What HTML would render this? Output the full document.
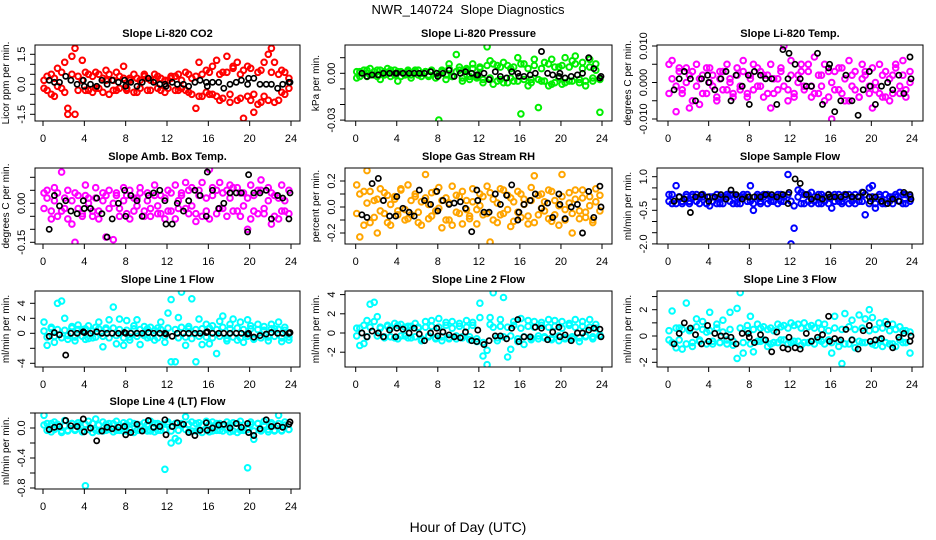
<!DOCTYPE html>
<html><head><meta charset="utf-8">
<style>
html,body{margin:0;padding:0;background:#fff;}
svg{display:block;font-family:"Liberation Sans",Arial,sans-serif;}
</style></head>
<body>
<svg id="chart" width="936" height="540" viewBox="0 0 936 540" xmlns="http://www.w3.org/2000/svg">
<rect width="936" height="540" fill="#fff"/>
<text x="468" y="14" text-anchor="middle" font-size="13">NWR_140724&#160; Slope Diagnostics</text>
<text x="468" y="532" text-anchor="middle" font-size="14">Hour of Day (UTC)</text>
</svg>
<script>
// shared measurement times (hours UTC)
const hours = [0.1,0.4,0.8,1.1,1.4,1.8,2.1,2.4,2.8,3.1,3.4,3.8,4.1,4.4,4.8,5.1,5.4,5.8,6.1,6.4,6.8,7.1,7.4,7.8,8.1,8.4,8.8,9.1,9.4,9.8,10.1,10.4,10.8,11.1,11.4,11.8,12.1,12.4,12.8,13.1,13.4,13.8,14.1,14.4,14.8,15.1,15.4,15.8,16.1,16.4,16.8,17.1,17.4,17.8,18.1,18.4,18.8,19.1,19.4,19.8,20.1,20.4,20.8,21.1,21.4,21.8,22.1,22.4,22.8,23.1,23.4,23.8];
const hoursBlack = [0.6,1.1,1.6,2.2,2.7,3.3,3.9,4.0,4.6,5.2,5.7,6.2,6.7,7.3,7.9,8.0,8.5,9.1,9.6,10.2,10.7,11.3,11.8,11.9,12.5,13.0,13.6,14.1,14.7,15.2,15.8,15.9,16.4,17.0,17.5,18.1,18.7,19.2,19.8,19.9,20.4,21.0,21.6,22.1,22.7,23.2,23.8,23.9];
const xTicks = [0,4,8,12,16,20,24];

// Li-820 CO2 (ppm/min)
const co2A = [0.2,-0.3,0.5,-0.6,0.8,-0.2,1.1,-1.2,1.4,1.8,0.4,1.2,-0.3,0.5,-0.4,0.6,-0.2,0.3,0.7,-0.5,0.2,-0.3,0.4,0.9,-0.2,0.3,0.5,-0.4,0.2,0.4,-0.3,0.2,0.5,-0.2,0.3,-0.4,0.2,0.4,-0.3,0.5,-0.2,0.6,-0.4,0.3,-1.2,1.1,-0.6,0.7,-0.5,0.9,1.2,-0.8,0.6,1.4,-0.9,0.8,1.1,-0.7,-1.7,0.9,-0.8,-1.4,0.6,-0.9,1.1,1.5,1.8,1.1,-0.8,0.7,-0.5,0.3];
const co2B = [-0.2,0.4,-0.5,0.3,-0.1,0.6,-0.4,-1.5,0.5,-1.5,-0.3,0.2,0.6,-0.3,0.4,-0.2,0.5,-0.4,0.2,0.5,-0.3,0.6,-0.2,0.3,-0.3,0.2,-0.4,0.3,-0.2,0.5,0.3,-0.3,0.2,0.4,-0.3,0.2,-0.2,0.3,0.4,-0.3,0.2,-0.3,0.5,-0.5,0.4,-0.6,0.5,-0.4,0.6,-0.5,-0.6,0.5,-0.7,0.6,-0.5,0.9,-0.8,0.5,0.7,-0.6,0.8,-0.5,-1.0,0.7,-0.6,-0.8,0.6,-0.9,0.5,-0.4,0.6,-0.2];
const co2Black = [0.2,0.1,0.1,0.4,0.2,0.0,0.2,-0.1,0.0,-0.1,0.2,0.0,0.2,0.1,0.2,-0.1,0.1,-0.1,0.1,0.3,0.1,0.0,0.0,-0.1,0.1,0.0,0.0,-0.1,0.1,0.2,0.1,-0.1,0.1,0.1,-0.2,0.0,0.1,0.2,0.0,0.3,0.3,0.0,0.0,0.0,-0.2,0.0,0.1,0.1];
// Li-820 pressure (1e-3 kPa/min)
const pressA = [-3,1,2,-2,3,-1,2,-4,1,3,-2,2,-5,1,-1,2,-3,1,2,-2,1,-1,2,-3,-30,1,-4,6,-2,12,2,-5,3,-2,6,-3,4,-6,17,8,-7,5,-4,7,-6,3,-5,10,-26,6,-8,-4,9,-22,-5,7,-8,9,-6,4,-7,10,-5,8,11,-6,7,-8,9,-5,2,-25];
const pressB = [1,-2,0,2,-1,1,-2,2,-1,0,2,-1,1,-2,0,1,-1,2,-1,0,1,-2,1,0,-1,2,-1,3,-2,1,4,-3,2,-4,3,-2,3,-4,5,-3,6,-5,4,-6,5,-3,4,-5,6,-4,3,-6,5,-4,3,-5,6,-7,4,-3,5,-6,4,-5,6,-4,3,-5,4,-3,6,-4];
const pressBlack = [0,-2,-1,-1,0,0,0,0,0,0,0,0,0,1,0,-2,0,2,-2,0,1,0,-1,-1,0,-4,1,-2,-3,1,0,-2,-2,-1,0,14,0,-1,-2,0,-3,-2,-1,0,10,3,-3,-2];
// Li-820 temp (1e-3 C/min)
const tempA = [5,6,-1,3,-3,4,2,-5,5,1,-3,4,0,2,-4,3,-2,5,1,-3,4,-2,6,-4,2,5,-1,3,-4,2,5,-3,1,4,10,-2,6,-3,2,5,-1,3,-4,7,-3,2,5,-4,-10,3,-2,4,-5,6,-1,3,-4,5,2,-3,4,-2,5,-4,3,-5,2,4,-3,6,-2,3];
const tempB = [-3,1,-8,4,-2,0,-7,3,-1,-6,2,-3,4,-1,-5,1,3,-2,0,-4,2,-1,3,-3,1,-2,4,-1,2,-3,-7,1,-2,3,-1,-5,2,-4,0,3,-2,5,-1,-3,2,-1,-5,3,0,-2,4,-3,1,-5,2,-2,-4,1,3,-1,-7,0,-3,2,-4,1,-3,5,-1,2,-4,0];
const tempBlack = [-2,1,3,1,-5,1,2,0,-2,1,3,-5,2,-1,2,-6,3,2,1,1,-6,9,1,8,5,1,-1,-1,8,-6,4,5,-8,-5,2,-5,-9,-2,3,-1,-6,-1,0,-2,2,-3,7,1];
// Amb box temp (1e-2 C/min)
const ambA = [4,2,-3,6,-5,12,-2,5,-8,-15,3,-4,7,2,-5,6,-3,4,-13,5,-14,3,-2,6,-4,5,-3,2,6,-5,4,-2,7,-4,3,-6,5,-3,7,-2,4,8,-4,6,-7,5,8,-3,13,6,-4,8,-2,5,7,-3,6,-5,4,-10,7,-3,5,9,-4,6,-8,3,-6,7,-3,5];
const ambB = [-2,5,-6,1,4,-3,2,-6,1,4,-2,-5,3,0,-3,2,-6,1,3,-2,0,4,-5,1,3,-6,2,-1,4,-3,1,-5,3,-1,-4,2,-3,4,-6,1,3,-2,5,-1,-4,3,-5,2,-6,3,5,-2,4,-5,2,6,-3,4,-1,2,-6,3,-4,5,-2,1,4,-5,2,-3,1,-4];
const ambBlack = [-10,3,-1,1,-3,-4,1,-2,-2,2,-4,-13,-6,0,5,-5,3,1,-5,3,4,5,1,-8,-8,0,-3,1,5,3,-5,12,5,-2,0,4,4,4,-11,11,4,4,5,-6,3,2,-6,4];
// Gas stream RH (1e-2 %/min)
const rhA = [17,-23,12,28,-12,5,-20,14,-5,9,-14,6,-3,13,-10,17,-6,8,-12,4,25,-9,11,-3,15,-16,7,-10,16,-4,8,-13,5,-7,14,-2,10,-6,16,-27,6,-12,14,-5,9,-15,4,12,-8,6,-13,15,24,-6,10,-3,13,-11,5,-14,25,-2,11,-20,6,-9,13,-4,8,-12,14,-3];
const rhB = [-5,10,-14,3,12,-8,6,-3,11,-12,2,8,-6,14,-2,-9,5,10,-4,-14,7,2,-7,12,-1,5,-10,3,-14,9,-5,12,-2,-9,4,-13,1,8,-5,11,-10,3,-6,13,-2,7,-11,-4,10,2,-7,5,-12,9,-1,4,-9,12,-6,1,8,-10,3,-5,13,-3,7,-8,1,-10,4,9];
const rhBlack = [-6,-8,18,22,5,-7,-7,8,-1,-4,-7,13,5,2,12,-3,5,2,3,4,-1,-19,13,5,-4,-4,10,2,9,17,-10,-4,2,5,10,-1,3,-8,10,2,-9,0,2,-20,12,-8,16,0];
// Sample flow (1e-1 ml/min per min)
const sampleA = [2,-2,6,1,-1,2,-1,2,-1,1,2,-2,-3,1,2,-2,1,2,-1,2,-2,1,2,-1,6,-5,2,-1,2,-2,1,-1,2,-1,1,11,-20,-13,4,3,-2,2,3,-1,2,-2,1,2,-4,-1,2,-1,2,-2,1,2,-1,3,-7,5,6,-4,1,-2,2,-1,1,2,3,-2,2,-1];
const sampleB = [-1,2,-2,1,-2,1,-2,1,2,-2,1,-2,1,-1,-2,1,-2,1,2,-2,1,-2,1,2,-1,-2,1,-2,1,2,-1,1,-2,2,-1,2,-1,-3,1,-2,2,-1,-2,1,-2,2,-1,-2,1,2,-1,-2,1,2,-1,-2,1,-1,2,-2,1,-2,2,-1,-2,1,-2,1,-1,2,-2,1];
const sampleBlack = [-1,1,0,-6,1,2,1,-1,1,2,0,4,2,0,1,1,1,1,2,2,1,2,-2,3,9,7,2,0,1,0,2,1,1,1,2,1,1,3,1,-1,1,-1,-2,0,-1,3,2,0];
// Line 1 flow
const line1A = [1.5,-1.6,0.8,-1.2,4.0,4.3,2.0,-0.8,0.9,-1.0,1.1,0.5,-0.8,1.0,-0.6,0.8,1.5,-1.8,0.7,1.8,3.5,-1.4,1.9,-1.6,1.7,-0.9,1.0,1.8,-1.5,0.9,-0.6,0.8,-0.9,0.7,1.5,-1.2,2.7,4.5,-3.8,2.1,5.5,-1.6,0.9,4.6,-3.8,1.9,-1.5,1.2,-1.4,1.0,-2.7,1.6,2.3,-1.0,1.2,1.9,-0.9,1.5,-1.2,1.8,1.0,-0.8,1.2,-0.6,0.9,-1.0,1.2,0.6,1.5,-1.1,0.8,-0.9];
const line1B = [0.3,-0.5,0.6,-0.4,0.5,-0.6,0.4,-0.3,0.7,-0.5,0.5,-0.4,0.6,-0.7,0.3,-0.5,0.6,-0.4,0.5,-0.6,0.7,-0.3,0.5,-0.6,0.4,-0.5,0.6,-0.4,0.5,-0.3,0.6,-0.5,0.4,-0.6,0.5,-0.4,0.7,-3.8,0.5,-0.6,0.8,-0.5,0.6,-0.7,0.5,-0.4,0.6,-0.5,0.7,-0.6,0.5,-0.4,0.8,-0.7,0.6,-0.5,0.7,-0.6,0.5,-0.4,0.6,-0.7,0.5,-0.6,0.4,-0.5,0.6,-0.4,0.5,-0.6,0.4,-0.5];
const line1Black = [-0.4,0.1,-0.2,-2.9,0,0,0.2,0.1,0,0.2,0,0,0,0,0.1,0,0,0,0,0.1,0,0,0,-0.1,-0.4,0,0,0,0,0,0.1,0.2,0,0,0,0,0,0,-0.1,0,-0.5,-0.3,-0.1,0.1,0,0,0,0.1];
// Line 2 flow
const line2A = [0.5,-1.3,-1.1,1.3,3.0,3.2,1.7,0.6,-0.5,0.8,-0.4,1.0,-0.6,0.9,-0.3,0.7,-0.5,1.0,0.6,-0.8,1.2,-0.4,1.3,-0.6,1.5,-0.8,1.1,-0.5,1.2,-0.6,1.0,-0.4,1.3,-0.7,1.1,-0.9,3.1,-2.4,-3.3,1.6,4.2,-0.8,1.4,3.7,-2.5,-1.7,1.2,-0.9,1.5,-1.2,1.3,-0.7,1.2,-0.6,1.1,-0.5,1.4,-0.7,1.3,-0.8,1.2,-0.5,1.0,-0.6,1.4,-0.9,1.2,-0.4,1.4,-0.6,0.9,-0.3];
const line2B = [-0.3,0.5,0.8,-0.4,0.6,1.2,-0.3,0.5,-0.4,0.7,0.5,-0.5,0.8,-0.3,0.6,-0.5,0.7,-0.4,0.5,-0.6,0.6,-0.3,0.7,-0.5,0.6,-0.4,0.8,-0.6,0.5,-0.3,0.7,-0.5,0.6,-0.4,0.8,-0.6,1.6,-1.0,-1.8,0.9,0.6,-0.5,0.7,-0.4,0.6,-0.3,0.8,-0.6,0.5,-0.4,0.7,-0.5,0.6,-0.3,0.8,-0.4,0.6,-0.5,0.7,-0.3,0.5,-0.6,0.8,-0.4,0.6,-0.5,0.7,-0.3,0.6,-0.4,0.5,-0.2];
const line2Black = [0.0,-0.4,0.2,0,-0.4,0.3,-0.4,0.5,0.4,0,0.5,-0.1,-0.8,0,0.5,-0.3,0.1,-0.2,-0.4,-0.5,0.1,-0.8,-0.9,0.3,-1.2,-0.8,-0.3,-0.3,-0.6,0.5,1.4,-0.9,-0.4,-0.4,0.6,0.5,-0.7,0.1,0.6,-0.4,-0.2,-0.8,0,0,0.3,0.5,0.4,-0.4];
// Line 3 flow
const line3A = [-0.3,1.9,-0.9,0.6,-1.0,2.5,0.5,-0.8,1.3,-0.4,1.1,0.3,1.8,-0.6,0.9,-0.5,1.2,-0.3,1.8,-0.7,2.1,3.3,-1.3,0.8,1.5,-1.2,0.9,-0.4,0.7,-0.8,0.6,-0.5,0.9,-0.3,0.8,-0.6,1.0,-0.4,0.9,-0.7,1.0,-0.5,0.8,-0.6,1.0,-0.4,0.9,-0.3,-1.3,1.5,-0.8,-2.1,1.7,-0.6,1.2,-0.9,1.6,-0.5,1.3,2.0,1.4,-0.7,1.0,-0.8,1.1,-0.6,0.9,-0.8,0.7,-0.5,0.4,-1.3];
const line3B = [0.4,-0.5,0.6,-0.3,0.5,-0.6,0.4,-0.5,0.7,-0.3,0.5,-0.6,0.4,-0.4,0.6,-0.5,0.3,-0.6,0.5,-0.4,-1.7,0.6,-0.5,0.4,-0.6,0.5,-0.4,0.6,-0.3,0.5,-0.6,0.4,-0.5,0.7,-0.3,0.6,-0.5,0.8,-0.4,0.6,-0.5,0.7,-0.4,0.6,-0.3,0.5,-0.6,0.4,-0.5,0.6,-0.4,0.5,-0.6,0.7,-0.3,0.5,-0.4,0.6,-0.5,0.4,-0.6,0.5,-0.3,0.6,-0.5,0.4,-0.6,0.5,-0.3,0.4,-0.5,0.3];
const line3Black = [-0.6,0.2,1.0,0.6,0.1,-0.6,0.8,-0.4,0.2,0,0,-0.1,-0.6,0.2,0.2,-0.1,-0.5,0.1,-0.3,-1.2,0.3,-0.9,-1.0,-0.1,-0.9,-1.0,0.2,-0.4,-0.1,0.1,1.5,-0.4,-0.2,-0.3,0.5,-0.3,-1.0,0.4,0.8,-0.4,-0.3,-0.2,0.9,-0.9,-0.1,0.2,-0.4,0];
// Line 4 (LT) flow (1e-2 ml/min per min)
const line4A = [17,6,-5,8,2,-6,10,-4,6,-3,7,-5,-77,9,-6,12,-4,8,-3,6,-5,9,-3,7,-4,8,-6,5,-3,7,-4,9,-5,6,-3,-55,8,-20,-14,-17,6,15,-5,8,-4,7,-6,9,-5,8,-3,6,-4,8,-5,7,-6,9,-3,-53,8,-15,6,-4,9,-5,7,-3,17,-4,8,-2];
const line4B = [4,-3,6,-2,5,-4,3,-3,6,-2,4,-4,5,-2,6,-3,4,-4,5,-2,6,-3,4,-4,5,-2,6,-3,4,-2,5,-4,6,-3,4,-2,5,-4,6,-3,4,-2,5,-4,6,-3,4,-2,5,-4,6,-3,4,-2,5,-4,6,-3,4,-2,5,-4,6,-3,4,-2,5,-4,6,-3,4,-2];
const line4Black = [-2,1,2,10,3,2,12,-5,0,-17,-4,1,-1,1,2,-9,-6,5,-4,10,1,2,11,-9,2,7,5,-6,-10,-3,7,-3,0,4,5,0,6,1,6,-6,-10,-1,11,2,3,1,5,8];

const svg = document.getElementById('chart');
const NS = 'http://www.w3.org/2000/svg';
const colLeft = [35, 345, 657], colRight = [300, 612, 923];
const colX0 = [43, 355.7, 668], colX24 = [291, 602, 912];
const rowTop = [45, 168, 291, 413];
const boxH = 76;

const panels = [
 {name:'li820-co2', title:'Slope Li-820 CO2', ylab:'Licor ppm per min.', col:0,row:0, color:'#ff0000', a:co2A, b:co2B, k:co2Black, zero:84.3, ppu:20, ticks:[-1.5,-1,-0.5,0,0.5,1,1.5], labs:[[1.5,'1.5'],[0,'0.0'],[-1.5,'-1.5']]},
 {name:'li820-pressure', title:'Slope Li-820 Pressure', ylab:'kPa per min.', col:1,row:0, color:'#00ee00', a:pressA, b:pressB, k:pressBlack, zero:73.3, ppu:1.56, ticks:[-30,-20,-10,0,10], labs:[[0,'0.00'],[-30,'-0.03']]},
 {name:'li820-temp', title:'Slope Li-820 Temp.', ylab:'degrees C per min.', col:2,row:0, color:'#ff00ff', a:tempA, b:tempB, k:tempBlack, zero:82.5, ppu:3.65, ticks:[-10,-5,0,5,10], labs:[[10,'0.010'],[0,'0.000'],[-10,'-0.010']]},
 {name:'amb-box-temp', title:'Slope Amb. Box Temp.', ylab:'degrees C per min.', col:0,row:1, color:'#ff00ff', a:ambA, b:ambB, k:ambBlack, zero:203.3, ppu:2.6, ticks:[-15,-10,-5,0,5,10], labs:[[0,'0.00'],[-15,'-0.15']]},
 {name:'gas-stream-rh', title:'Slope Gas Stream RH', ylab:'percent per min.', col:1,row:1, color:'#ffa500', a:rhA, b:rhB, k:rhBlack, zero:207, ppu:1.3, ticks:[-20,-10,0,10,20], labs:[[20,'0.2'],[0,'0.0'],[-20,'-0.2']]},
 {name:'sample-flow', title:'Slope Sample Flow', ylab:'ml/min per min.', col:2,row:1, color:'#0000ff', a:sampleA, b:sampleB, k:sampleBlack, zero:199.1, ppu:2.24, ticks:[-20,-15,-10,-5,0,5,10], labs:[[10,'1.0'],[-5,'-0.5'],[-20,'-2.0']]},
 {name:'line1-flow', title:'Slope Line 1 Flow', ylab:'ml/min per min.', col:0,row:2, color:'#00ffff', a:line1A, b:line1B, k:line1Black, zero:333.3, ppu:7.5, ticks:[-4,-2,0,2,4], labs:[[4,'4'],[2,'2'],[0,'0'],[-4,'-4']]},
 {name:'line2-flow', title:'Slope Line 2 Flow', ylab:'ml/min per min.', col:1,row:2, color:'#00ffff', a:line2A, b:line2B, k:line2Black, zero:333, ppu:9.6, ticks:[-2,0,2,4], labs:[[4,'4'],[2,'2'],[0,'0'],[-2,'-2']]},
 {name:'line3-flow', title:'Slope Line 3 Flow', ylab:'ml/min per min.', col:2,row:2, color:'#00ffff', a:line3A, b:line3B, k:line3Black, zero:336, ppu:13.15, ticks:[-2,-1,0,1,2,3], labs:[[2,'2'],[0,'0'],[-2,'-2']]},
 {name:'line4-flow', title:'Slope Line 4 (LT) Flow', ylab:'ml/min per min.', col:0,row:3, color:'#00ffff', a:line4A, b:line4B, k:line4Black, zero:428, ppu:0.75, ticks:[-80,-60,-40,-20,0,20], labs:[[0,'0.0'],[-40,'-0.4'],[-80,'-0.8']]}
];

function el(tag, attrs, parent){
  const e = document.createElementNS(NS, tag);
  for (const k in attrs) e.setAttribute(k, attrs[k]);
  parent.appendChild(e);
  return e;
}

panels.forEach(p => {
  const L = colLeft[p.col], R = colRight[p.col], T = rowTop[p.row], B = T + boxH;
  const x0 = colX0[p.col], x24 = colX24[p.col];
  const xs = h => x0 + (x24 - x0) * h / 24;
  const ys = v => p.zero - v * p.ppu;
  const g = el('g', {}, svg);
  
  

  const title = el('text', {x:(L+R)/2, y:T-8, 'text-anchor':'middle', 'font-size':'11', 'font-weight':'bold'}, g);
  
  
  title.textContent = p.title;

  const clipId = 'clip-' + p.name;
  const cp = el('clipPath', {id:clipId}, g);
  el('rect', {x:L, y:T, width:R-L, height:boxH}, cp);

  const pts = el('g', {'clip-path':'url(#'+clipId+')', fill:'none'}, g);
  
  
  [p.a, p.b].forEach(arr => {
    arr.forEach((v, i) => {
      const c = el('circle', {cx:xs(hours[i]).toFixed(1), cy:ys(v).toFixed(1), r:2.8, stroke:p.color, 'stroke-width':2}, pts);
      
      
    });
  });
  p.k.forEach((v, i) => {
    const c = el('circle', {cx:xs(hoursBlack[i]).toFixed(1), cy:ys(v).toFixed(1), r:2.6, stroke:'#000', 'stroke-width':1.7}, pts);
    
    
  });

  const box = el('rect', {x:L, y:T, width:R-L, height:boxH, fill:'none', stroke:'#000', 'stroke-width':1}, g);
  
  

  const xa = el('g', {'font-size':'11'}, g);
  
  
  xTicks.forEach(t => {
    const x = xs(t);
    el('line', {x1:x, x2:x, y1:B, y2:B+5, stroke:'#000'}, xa);
    const tx = el('text', {x:x, y:B+21, 'text-anchor':'middle'}, xa);
    
    
    tx.textContent = t;
  });

  const ya = el('g', {'font-size':'11'}, g);
  
  
  p.ticks.forEach(t => {
    const y = ys(t);
    el('line', {x1:L-5, x2:L, y1:y, y2:y, stroke:'#000'}, ya);
  });
  p.labs.forEach(([v, s]) => {
    const y = ys(v), x = L - 10;
    const tx = el('text', {x:x, y:y, 'text-anchor':'middle', transform:'rotate(-90 '+x+' '+y+')'}, ya);
    
    
    tx.textContent = s;
  });
  const yx = L - 26, yy = (T + B) / 2;
  const yt = el('text', {x:yx, y:yy, 'text-anchor':'middle', 'font-size':'10', transform:'rotate(-90 '+yx+' '+yy+')'}, g);
  
  
  yt.textContent = p.ylab;
});
</script>
</body></html>
